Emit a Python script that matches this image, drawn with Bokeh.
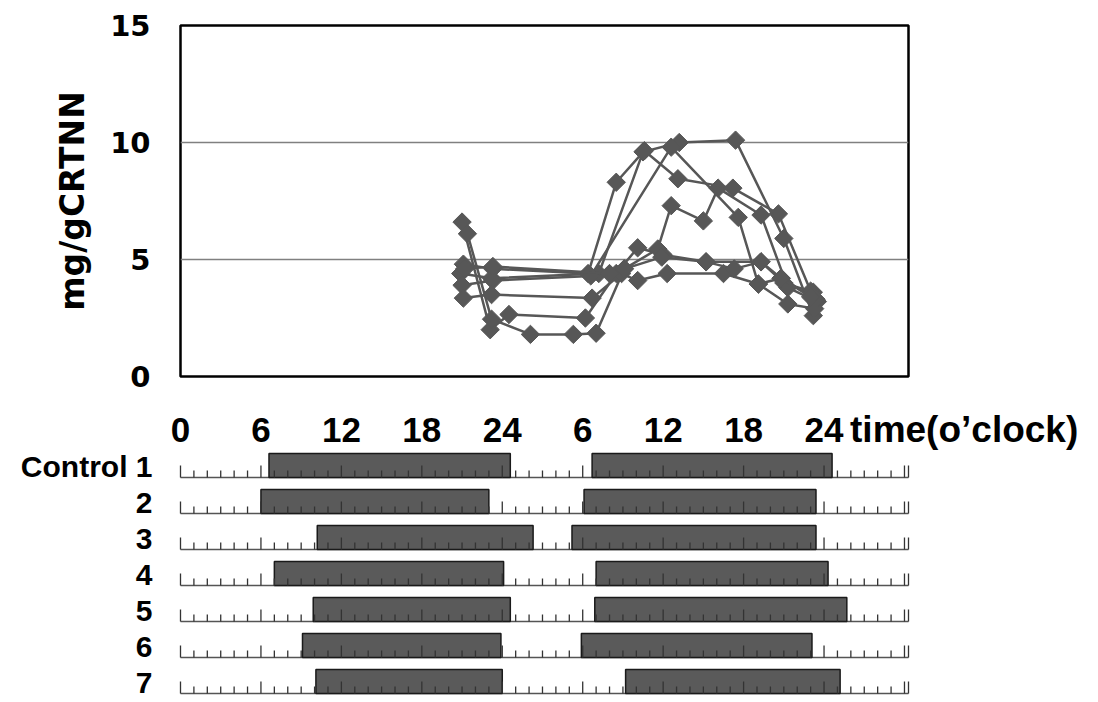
import math
from bokeh.plotting import figure
from bokeh.models import Range1d, FixedTicker
from bokeh.embed import file_html
from bokeh.resources import INLINE
from bokeh.core.properties import value

# ---------------- data ----------------
# urinary values (mg/gCRTNN) per subject; times in hours from 0:00 of day 1
s1_t = [21.0, 23.1, 24.5, 30.2, 32.5, 34.1, 36.0, 39.2, 43.3, 45.0, 47.2]
s1_v = [6.6, 2.0, 2.65, 2.5, 4.4, 5.5, 5.2, 4.9, 4.9, 4.0, 3.6]
s2_t = [21.4, 23.2, 26.1, 29.3, 31.0, 33.1, 35.6, 36.6, 39.0, 40.1, 43.3, 45.3, 47.5]
s2_v = [6.1, 2.45, 1.8, 1.8, 1.85, 4.6, 5.45, 7.3, 6.65, 8.05, 6.9, 3.8, 3.2]
s3_t = [21.1, 23.3, 30.4, 32.5, 34.6, 37.1, 41.2, 44.6, 47.0]
s3_v = [4.8, 4.6, 4.4, 8.3, 9.65, 8.45, 8.05, 6.95, 3.65]
s4_t = [20.9, 23.2, 31.2, 34.5, 37.2, 41.4, 45.0, 47.2]
s4_v = [4.4, 4.2, 4.4, 9.6, 10.0, 10.1, 5.9, 2.6]
s5_t = [21.0, 23.3, 30.6, 36.6, 41.6, 43.1, 45.3, 47.3]
s5_v = [3.9, 4.1, 4.3, 9.8, 6.8, 3.95, 3.1, 2.9]
s6_t = [21.1, 23.2, 30.7, 32.9, 34.1, 36.3, 40.5, 43.1, 44.8, 47.4]
s6_v = [3.35, 3.5, 3.35, 4.4, 4.1, 4.4, 4.4, 3.95, 4.2, 3.3]
s7_t = [21.2, 23.3, 32.0, 33.1, 35.9, 39.2, 41.3, 43.3, 44.8, 47.0]
s7_v = [4.6, 4.7, 4.4, 4.6, 5.1, 4.9, 4.6, 4.9, 4.2, 3.4]

y_ticks = [0, 5, 10, 15]
hour_ticks = [0, 6, 12, 18, 24, 30, 36, 42, 48]
hour_labels = ["0", "6", "12", "18", "24", "6", "12", "18", "24"]
axis_title = "time(o\u2019clock)"
row_labels = ["Control 1", "2", "3", "4", "5", "6", "7"]

# activity bars (hours) per row, day 1 and day 2
day1_start = [6.6, 6.0, 10.2, 7.0, 9.9, 9.1, 10.1]
day1_end = [24.6, 23.0, 26.3, 24.1, 24.6, 23.9, 24.0]
day2_start = [30.7, 30.1, 29.2, 31.0, 30.9, 29.9, 33.2]
day2_end = [48.6, 47.4, 47.4, 48.3, 49.7, 47.1, 49.2]

# ---------------- styling ----------------
FONT = "DejaVu Sans"
FONT2 = "Liberation Sans"
GRAY = "#575757"
X_END = 54.3
PX = 728 / X_END  # pixels per hour in both panels
W = 1090
LEFT, RIGHT = 180, 182

series = [(s1_t, s1_v), (s2_t, s2_v), (s3_t, s3_v), (s4_t, s4_v),
          (s5_t, s5_v), (s6_t, s6_v), (s7_t, s7_v)]

p = figure(width=W, height=398, x_range=Range1d(0, X_END), y_range=Range1d(0, 15),
           output_backend="svg", toolbar_location=None, x_axis_location=None,
           min_border_left=LEFT, min_border_right=RIGHT, min_border_top=25, min_border_bottom=22)
p.xgrid.visible = False
p.ygrid.ticker = FixedTicker(ticks=[5, 10])
p.ygrid.grid_line_color = "#808080"
p.ygrid.grid_line_width = 1.5
p.outline_line_color = "black"
p.outline_line_width = 2.5
p.outline_line_alpha = 1
ax = p.yaxis[0]
ax.ticker = FixedTicker(ticks=y_ticks)
ax.axis_line_color = None
ax.major_tick_line_color = None
ax.minor_tick_line_color = None
ax.major_tick_out = 0
ax.major_label_text_font = FONT
ax.major_label_text_font_style = "bold"
ax.major_label_text_font_size = "29px"
ax.major_label_text_color = "black"
ax.major_label_standoff = 30
ax.axis_label = "mg/gCRTNN"
ax.axis_label_text_font = FONT
ax.axis_label_text_font_style = "bold"
ax.axis_label_text_font_size = "33px"
ax.axis_label_text_color = "black"
ax.axis_label_standoff = 15

for t, v in series:
    p.line(t, v, line_color=GRAY, line_width=2.5)
    p.scatter(t, v, marker="square", angle=math.pi / 4, size=13,
              fill_color=GRAY, line_color=GRAY)

# ---------------- lower panel (frame spans the whole canvas) ----------------
ROW_PX = 36.0
Q_TOP, Q_BOT = 398, 702
BASE0 = 477
y_top = (BASE0 - Q_TOP) / ROW_PX
y_bot = -6 - (Q_BOT - (BASE0 + 6 * ROW_PX)) / ROW_PX
q = figure(width=W, height=Q_BOT - Q_TOP,
           x_range=Range1d(-LEFT / PX, X_END + (W - LEFT - 728) / PX),
           y_range=Range1d(y_bot, y_top),
           output_backend="svg", toolbar_location=None,
           x_axis_location=None, y_axis_location=None,
           min_border=0, min_border_left=0, min_border_right=0,
           min_border_top=0, min_border_bottom=0)
q.outline_line_color = None
q.grid.visible = False

n = len(row_labels)
bases = [-i for i in range(n)]
BAR_H = 24 / ROW_PX

q.segment(x0=[0] * n, y0=bases, x1=[X_END] * n, y1=bases, line_color="#555555", line_width=1.5)
q.quad(left=day1_start + day2_start, right=day1_end + day2_end,
       bottom=bases + bases, top=[b + BAR_H for b in bases] * 2,
       fill_color="#5a5a5a", line_color="#1a1a1a", line_width=1.5)
tx, ty0, ty1 = [], [], []
for b in bases:
    for h in range(0, int(X_END) + 1):
        tx.append(h)
        ty0.append(b)
        ty1.append(b + (12 if h % 6 == 0 else 7) / ROW_PX)
    tx.append(X_END)
    ty0.append(b)
    ty1.append(b + 12 / ROW_PX)
q.segment(x0=tx, y0=ty0, x1=tx, y1=ty1, line_color="#333333", line_width=1.3)

lab_y = (BASE0 - 429) / ROW_PX
q.text(x=hour_ticks, y=[lab_y] * len(hour_ticks), text=hour_labels,
       text_align="center", text_baseline="middle",
       text_font=value(FONT2), text_font_style="bold", text_font_size="35px", text_color="black")
q.text(x=[48 + 26 / PX], y=[lab_y], text=[axis_title],
       text_align="left", text_baseline="middle",
       text_font=value(FONT2), text_font_style="bold", text_font_size="37px", text_color="black")
row_y = [(BASE0 - (466 + 36.0 * i)) / ROW_PX for i in range(n)]
q.text(x=[-28 / PX] * n, y=row_y, text=row_labels,
       text_align="right", text_baseline="middle",
       text_font=value(FONT2), text_font_style="bold", text_font_size="30px", text_color="black")

# two separate roots (no frame alignment between them), stacked vertically
open("out.html", "w").write(file_html([p, q], INLINE))
